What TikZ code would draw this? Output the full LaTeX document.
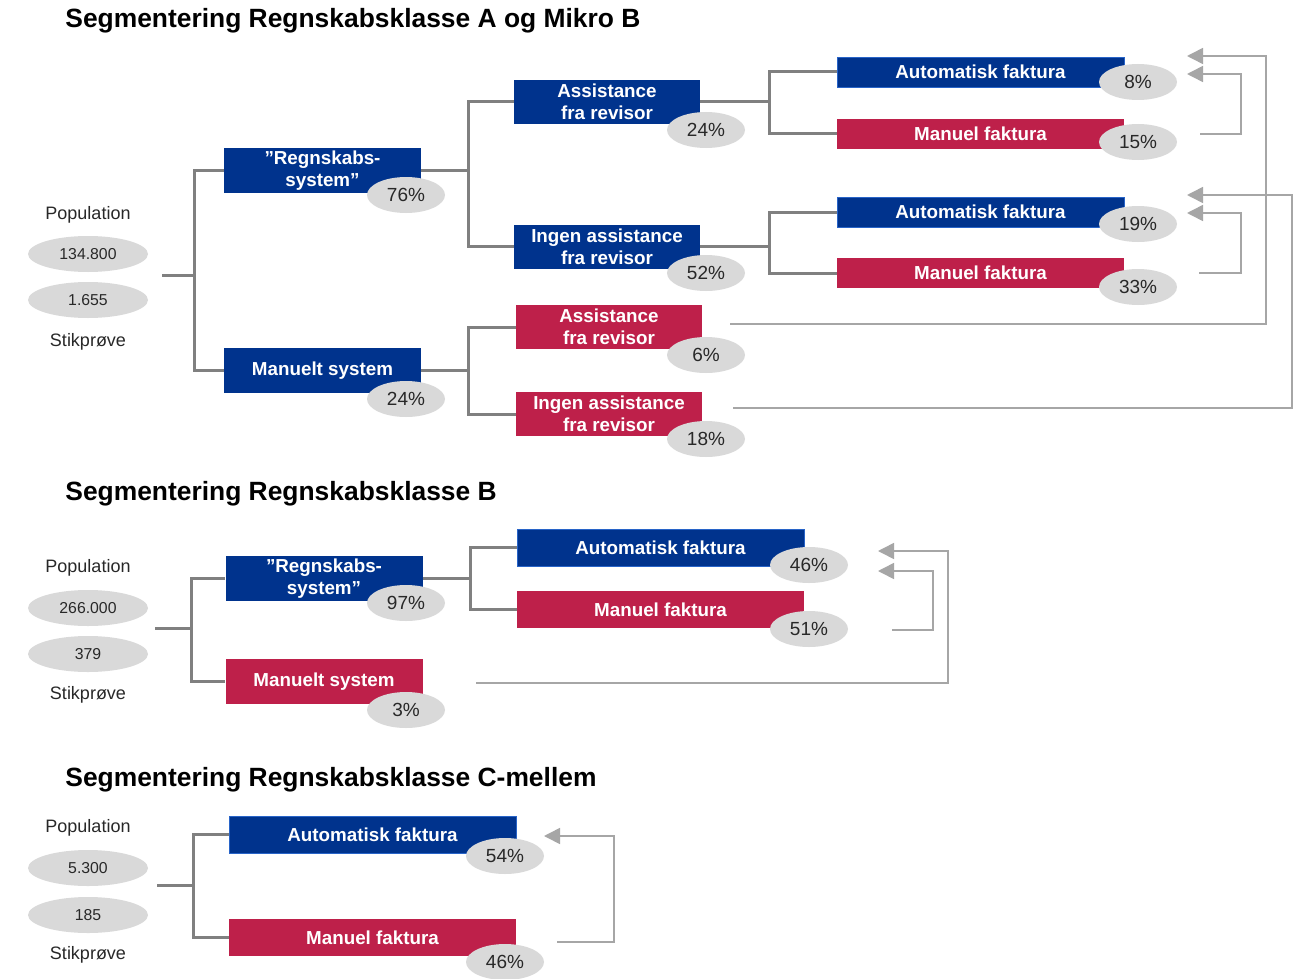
\documentclass[tikz,border=0pt]{standalone}
\usepackage{fontspec}
\setmainfont{Liberation Sans}
\usetikzlibrary{arrows.meta,shapes.geometric}
\definecolor{kblue}{RGB}{0,51,141}
\definecolor{kred}{RGB}{190,32,74}
\definecolor{kborder}{RGB}{40,100,200}
\definecolor{egray}{RGB}{217,217,217}
\definecolor{tgray}{RGB}{128,128,128}
\definecolor{agray}{RGB}{166,166,166}
\definecolor{txt}{RGB}{40,40,40}
\begin{document}
\begin{tikzpicture}[x=0.5pt,y=-0.5pt,
  title/.style={anchor=base west, inner sep=0pt, font=\bfseries\fontsize{13.2}{16}\selectfont},
  lbl/.style={inner sep=0pt, text=txt, font=\fontsize{9}{11}\selectfont},
  num/.style={ellipse, fill=egray, minimum width=60pt, minimum height=18pt, inner sep=0pt, text=txt, font=\fontsize{7.9}{10}\selectfont},
  box/.style={rectangle, inner sep=0pt, text=white, align=center, font=\bfseries\fontsize{9.4}{11}\selectfont},
  bluebox/.style={box, fill=kblue},
  redbox/.style={box, fill=kred},
  autob/.style={draw=kborder, line width=0.4pt},
  midbox/.style={minimum width=98.5pt, minimum height=22.5pt},
  revbox/.style={minimum width=93pt, minimum height=22pt},
  widebox/.style={minimum width=143.5pt, minimum height=15pt},
  widetall/.style={minimum width=143.5pt, minimum height=18.5pt},
  pct/.style={ellipse, fill=egray, minimum width=39pt, minimum height=18pt, inner sep=0pt, text=txt, font=\fontsize{9.5}{11}\selectfont},
  tree/.style={draw=tgray, line width=1.5pt},
  fb/.style={draw=agray, line width=0.8pt, -{Triangle[length=8pt,width=8pt]}}
]
\fill[white] (0,0) rectangle (1295,979);
\useasboundingbox (0,0) rectangle (1295,979);

% ===== Section 1 =====
\node[title] (t1) at (65,28) {Segmentering Regnskabsklasse A og Mikro B};
\node[lbl] (pop1) at (88,215) {Population};
\node[num] (n1a) at (88,254) {134.800};
\node[num] (n1b) at (88,300) {1.655};
\node[lbl] (stk1) at (88,342) {Stikprøve};
\coordinate (r1) at (162,275);

\node[bluebox, midbox] (rs1) at (322.5,170.5) {”Regnskabs-\\system”};
\node[bluebox, midbox] (ms1) at (322.5,370.5) {Manuelt system};
\node[bluebox, revbox] (afr1) at (607,102) {Assistance\\fra revisor};
\node[bluebox, revbox] (iafr1) at (607,246.5) {Ingen assistance\\fra revisor};
\node[redbox, revbox] (afr2) at (609,327) {Assistance\\fra revisor};
\node[redbox, revbox] (iafr2) at (609,414) {Ingen assistance\\fra revisor};
\node[bluebox, autob, widebox] (af1) at (980.5,72) {Automatisk faktura};
\node[redbox, widebox] (mf1) at (980.5,134) {Manuel faktura};
\node[bluebox, autob, widebox] (af2) at (980.5,212) {Automatisk faktura};
\node[redbox, widebox] (mf2) at (980.5,273) {Manuel faktura};

\draw[tree] (r1) -- ++(32,0) |- (rs1.west);
\draw[tree] (r1) -- ++(32,0) |- (ms1.west);
\draw[tree] (rs1.east) -- ++(47,0) |- (afr1.west);
\draw[tree] (rs1.east) -- ++(47,0) |- (iafr1.west);
\draw[tree] (ms1.east) -- ++(47,0) |- (afr2.west);
\draw[tree] (ms1.east) -- ++(47,0) |- (iafr2.west);
\draw[tree] (afr1.east) -- ++(69,0) |- (af1.west);
\draw[tree] (afr1.east) -- ++(69,0) |- (mf1.west);
\draw[tree] (iafr1.east) -- ++(69,0) |- (af2.west);
\draw[tree] (iafr1.east) -- ++(69,0) |- (mf2.west);

\node[pct] (p76) at (406,195) {76\%};
\node[pct] (p24a) at (406,399) {24\%};
\node[pct] (p24b) at (706,130) {24\%};
\node[pct] (p52) at (706,273) {52\%};
\node[pct] (p6) at (706,355) {6\%};
\node[pct] (p18) at (706,439) {18\%};
\node[pct] (p8) at (1138,82) {8\%};
\node[pct] (p15) at (1138,142) {15\%};
\node[pct] (p19) at (1138,224) {19\%};
\node[pct] (p33) at (1138,287) {33\%};

\coordinate (a1s) at (730,324);  \coordinate (a1e) at (1187,56);
\coordinate (a2s) at (1200,134); \coordinate (a2e) at (1187,74);
\coordinate (a3s) at (733,408);  \coordinate (a3e) at (1187,195);
\coordinate (a4s) at (1199,273); \coordinate (a4e) at (1187,213);
\draw[fb] (a1s) -- ++(536,0) |- (a1e);
\draw[fb] (a2s) -- ++(41,0) |- (a2e);
\draw[fb] (a3s) -- ++(559,0) |- (a3e);
\draw[fb] (a4s) -- ++(42,0) |- (a4e);

% ===== Section 2 =====
\node[title] (t2) at (65,500) {Segmentering Regnskabsklasse B};
\node[lbl] (pop2) at (88,568) {Population};
\node[num] (n2a) at (88,608) {266.000};
\node[num] (n2b) at (88,654) {379};
\node[lbl] (stk2) at (88,695) {Stikprøve};
\coordinate (r2) at (155,628);

\node[bluebox, midbox] (rs2) at (324,578.5) {”Regnskabs-\\system”};
\node[redbox, midbox] (ms2) at (324,681.5) {Manuelt system};
\node[bluebox, autob, widetall] (af3) at (660.5,547.5) {Automatisk faktura};
\node[redbox, widetall] (mf3) at (660.5,609.5) {Manuel faktura};

\draw[tree] (r2) -- ++(36,0) |- (rs2.west);
\draw[tree] (r2) -- ++(36,0) |- (ms2.west);
\draw[tree] (rs2.east) -- ++(48,0) |- (af3.west);
\draw[tree] (rs2.east) -- ++(48,0) |- (mf3.west);

\node[pct] (p97) at (406,603) {97\%};
\node[pct] (p3) at (406,710) {3\%};
\node[pct] (p46a) at (809,565) {46\%};
\node[pct] (p51) at (809,629) {51\%};

\coordinate (b1s) at (476,683); \coordinate (b1e) at (878,551);
\coordinate (b2s) at (892,630); \coordinate (b2e) at (878,571);
\draw[fb] (b1s) -- ++(472,0) |- (b1e);
\draw[fb] (b2s) -- ++(41,0) |- (b2e);

% ===== Section 3 =====
\node[title] (t3) at (65,786) {Segmentering Regnskabsklasse C-mellem};
\node[lbl] (pop3) at (88,828) {Population};
\node[num] (n3a) at (88,868) {5.300};
\node[num] (n3b) at (88,915) {185};
\node[lbl] (stk3) at (88,955) {Stikprøve};
\coordinate (r3) at (157,885);

\node[bluebox, autob, widetall] (af4) at (372.5,834.5) {Automatisk faktura};
\node[redbox, widetall] (mf4) at (372.5,937.5) {Manuel faktura};

\draw[tree] (r3) -- ++(36,0) |- (af4.west);
\draw[tree] (r3) -- ++(36,0) |- (mf4.west);

\node[pct] (p54) at (505,856) {54\%};
\node[pct] (p46b) at (505,962) {46\%};

\coordinate (c1s) at (557,942); \coordinate (c1e) at (544,836);
\draw[fb] (c1s) -- ++(57,0) |- (c1e);
\end{tikzpicture}
\end{document}
